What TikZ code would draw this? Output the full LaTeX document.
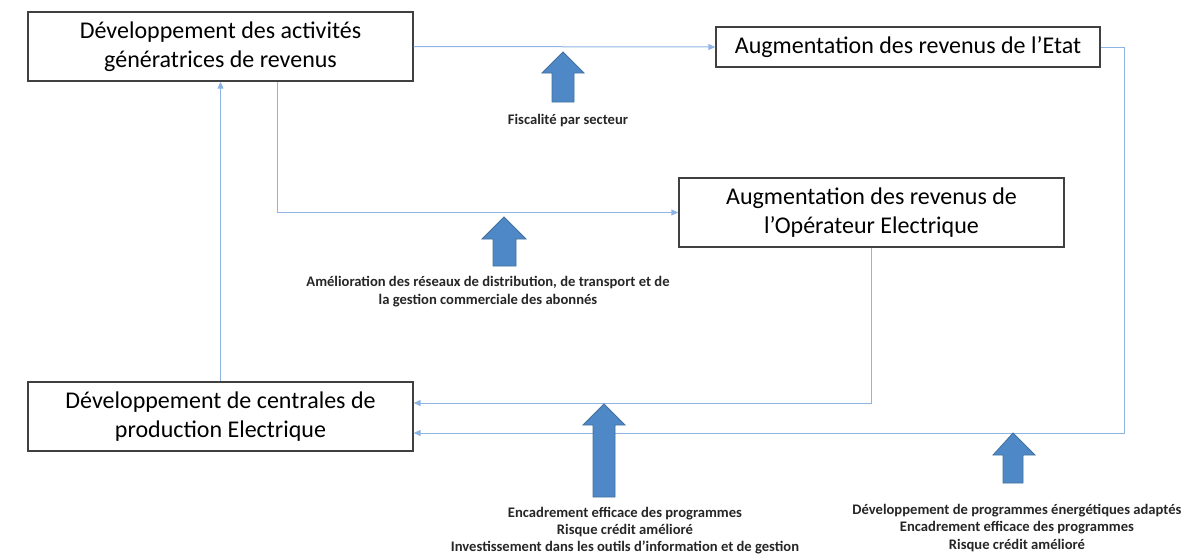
\documentclass[tikz,border=0pt]{standalone}
\usepackage{fontspec}
\setmainfont{Carlito}
\usetikzlibrary{arrows.meta,calc}
\definecolor{conncol}{HTML}{8DB4E2}
\definecolor{fatfill}{HTML}{4F88C6}
\definecolor{fatline}{HTML}{41719C}
\definecolor{boxline}{HTML}{404040}
\tikzset{
  box/.style={draw=boxline,line width=1.3pt,minimum width=385pt,inner sep=0pt,align=center,text=black,font=\fontsize{24}{29}\selectfont},
  conn/.style={draw=conncol,line width=1pt,-{Triangle[length=7pt,width=6pt]}},
  fat/.style={fill=fatfill,draw=fatline,line width=0.8pt},
  lbl/.style={align=center,inner sep=0pt,font=\bfseries\fontsize{14.6}{17.3}\selectfont,text=black!85}
}
\begin{document}
\begin{tikzpicture}[x=1pt,y=-1pt]
\useasboundingbox (0,0) rectangle (1202,555);
\node[box,minimum height=69pt] (A) at (220.5,46.5) {Développement des activités\\génératrices de revenus};
\node[box,minimum width=384pt,minimum height=40pt] (B) at (908,47) {Augmentation des revenus de l’Etat};
\node[box,minimum height=69pt] (C) at (871.5,212.5) {Augmentation des revenus de\\l’Opérateur Electrique};
\node[box,minimum height=69pt] (D) at (220.5,416.5) {Développement de centrales de\\production Electrique};

\draw[conn] (A.east) -- (B.west);
\draw[conn] ([xshift=56.5pt]A.south) |- (C.west);
\draw[conn] (D.north) -- (A.south);
\draw[conn] (C.south) |- ([yshift=13.5pt]D.east);
\draw[conn] (B.east) -- ++(24,0) |- ([yshift=-16.5pt]D.east);

% fat arrows
\draw[fat] (563,52) -- (584,73) -- (574,73) -- (574,102) -- (552,102) -- (552,73) -- (542,73) -- cycle;
\draw[fat] (504,217) -- (526,239) -- (516,239) -- (516,266) -- (493,266) -- (493,239) -- (482,239) -- cycle;
\draw[fat] (604,404) -- (625,425) -- (615,425) -- (615,497) -- (593,497) -- (593,425) -- (583,425) -- cycle;
\draw[fat] (1013,433) -- (1035,455) -- (1023,455) -- (1023,483) -- (1003,483) -- (1003,455) -- (993,455) -- cycle;

\node[lbl] (L1) at (568,121) {Fiscalité par secteur};
\node[lbl] (L2) at (488,291.5) {Amélioration des réseaux de distribution, de transport et de\\la gestion commerciale des abonnés};
\node[lbl] (L3) at (625,530.5) {Encadrement efficace des programmes\\Risque crédit amélioré\\Investissement dans les outils d’information et de gestion};
\node[lbl] (L4) at (1017,528) {Développement de programmes énergétiques adaptés\\Encadrement efficace des programmes\\Risque crédit amélioré};
\end{tikzpicture}
\end{document}
